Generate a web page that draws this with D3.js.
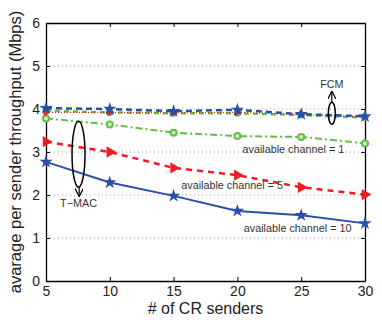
<!DOCTYPE html>
<html>
<head>
<meta charset="utf-8">
<script src="https://cdn.jsdelivr.net/npm/d3@7"></script>
<style>
  body { margin: 0; background: #fff; }
  text { font-family: "Liberation Sans", Arial, sans-serif; }
</style>
</head>
<body>
<div id="chart"></div>
<script>
// x values: number of CR senders
const senders = [5, 10, 15, 20, 25, 30];
const yTicks = [0, 1, 2, 3, 4, 5, 6];

// FCM curves (upper group)
const fcm10 = [4.02, 4.0, 3.95, 3.98, 3.88, 3.83];
const fcm5  = [3.92, 3.92, 3.91, 3.92, 3.87, 3.82];
const fcm1  = [3.96, 3.92, 3.9, 3.9, 3.86, 3.8];
// T-MAC curves
const tmac1  = [3.78, 3.64, 3.45, 3.37, 3.35, 3.2];
const tmac5  = [3.24, 3.0, 2.63, 2.46, 2.18, 2.01];
const tmac10 = [2.77, 2.29, 1.98, 1.63, 1.53, 1.34];

const W = 382, H = 320;
const margin = {top: 23, right: 17, bottom: 39, left: 46};
const w = W - margin.left - margin.right,
      h = H - margin.top - margin.bottom;

const blue = "#2b4ea8", red = "#ee1c24", green = "#62bf43";

const svg = d3.select("#chart").append("svg")
    .attr("width", W).attr("height", H);
const g = svg.append("g")
    .attr("transform", "translate(" + margin.left + "," + margin.top + ")");

const x = d3.scaleLinear().domain([5, 30]).range([0, w]);
const y = d3.scaleLinear().domain([0, 6]).range([h, 0]);

// dotted grid
g.selectAll(".grid").data(yTicks.slice(1, -1)).enter().append("line")
    .attr("x1", 0).attr("x2", w)
    .attr("y1", d => y(d)).attr("y2", d => y(d))
    .style("stroke", "#999").style("stroke-width", 1)
    .style("stroke-dasharray", "1,3");

// axes with inward ticks
g.append("g").attr("transform", "translate(0," + h + ")")
    .call(d3.axisBottom(x).tickValues(senders).tickSizeInner(-4).tickSizeOuter(0).tickPadding(5).tickFormat(d3.format("d")))
    .call(a => a.selectAll("text").style("font-size", "14px").style("fill", "#222"));
g.append("g")
    .call(d3.axisLeft(y).tickValues(yTicks).tickSizeInner(-4).tickSizeOuter(0).tickPadding(6).tickFormat(d3.format("d")))
    .call(a => a.selectAll("text").style("font-size", "14px").style("fill", "#222"));
g.append("g")
    .call(d3.axisTop(x).tickValues(senders).tickSizeInner(-4).tickSizeOuter(0).tickFormat(""));
g.append("g").attr("transform", "translate(" + w + ",0)")
    .call(d3.axisRight(y).tickValues(yTicks).tickSizeInner(-4).tickSizeOuter(0).tickFormat(""));
g.selectAll(".domain").style("stroke", "#000").style("stroke-width", 1.3);

const line = d3.line().x((d, i) => x(senders[i])).y(d => y(d));

const series = [
  {v: tmac10, c: blue,  dash: null,      wd: 2,   m: "star", sz: 55},
  {v: tmac5,  c: red,   dash: "6,5",     wd: 2.5, m: "tri",  sz: 55},
  {v: tmac1,  c: green, dash: "7,3,2,3", wd: 2,   m: "circ", sz: 3},
  {v: fcm1,   c: green, dash: "5,4",     wd: 2.5, m: "circ", sz: 2.5},
  {v: fcm5,   c: red,   dash: "1,2",     wd: 1.2, m: "tri",  sz: 25},
  {v: fcm10,  c: blue,  dash: "6,4",     wd: 2.5, m: "star", sz: 55}
];

series.forEach(s => {
  g.append("path").datum(s.v)
    .attr("d", line)
    .style("fill", "none").style("stroke", s.c)
    .style("stroke-width", s.wd)
    .style("stroke-dasharray", s.dash);
  const pts = g.selectAll(null).data(s.v).enter();
  if (s.m === "star") {
    pts.append("path").attr("d", d3.symbol().type(d3.symbolStar).size(s.sz))
      .attr("transform", (d, i) => "translate(" + x(senders[i]) + "," + y(d) + ")")
      .style("fill", s.c);
  } else if (s.m === "tri") {
    pts.append("path").attr("d", d3.symbol().type(d3.symbolTriangle).size(s.sz))
      .attr("transform", (d, i) => "translate(" + x(senders[i]) + "," + y(d) + ") rotate(90)")
      .style("fill", s.c);
  } else {
    pts.append("circle")
      .attr("cx", (d, i) => x(senders[i])).attr("cy", d => y(d)).attr("r", s.sz)
      .style("fill", "#cfeec4").style("stroke", s.c).style("stroke-width", 2);
  }
});

// annotations
svg.append("defs").append("marker")
    .attr("id", "arr").attr("viewBox", "0 0 10 10")
    .attr("refX", 9).attr("refY", 5)
    .attr("markerWidth", 7).attr("markerHeight", 7).attr("orient", "auto")
  .append("path").attr("d", "M0,0 L10,5 L0,10").style("fill", "none").style("stroke", "#000").style("stroke-width", 1.5);

const ann = g.append("g");
ann.append("ellipse")
    .attr("cx", x(7.55)).attr("cy", y(2.95)).attr("rx", 6.5).attr("ry", 33)
    .style("fill", "none").style("stroke", "#000").style("stroke-width", 1.5);
ann.append("line")
    .attr("x1", x(7.6)).attr("y1", y(2.18)).attr("x2", x(7.6)).attr("y2", y(1.98))
    .style("stroke", "#000").style("stroke-width", 1.2).attr("marker-end", "url(#arr)");
ann.append("text").attr("x", x(7.55)).attr("y", y(1.72))
    .attr("text-anchor", "middle").style("font-size", "10.8px").style("fill", "#333").text("T\u2212MAC");

ann.append("ellipse")
    .attr("cx", x(27.4)).attr("cy", y(3.9)).attr("rx", 3.5).attr("ry", 11)
    .style("fill", "none").style("stroke", "#000").style("stroke-width", 1.5);
ann.append("line")
    .attr("x1", x(27.4)).attr("y1", y(4.15)).attr("x2", x(27.4)).attr("y2", y(4.4))
    .style("stroke", "#000").style("stroke-width", 1.2).attr("marker-end", "url(#arr)");
ann.append("text").attr("x", x(27.4)).attr("y", y(4.5))
    .attr("text-anchor", "middle").style("font-size", "10.8px").style("fill", "#333").text("FCM");

ann.append("text").attr("x", x(20.4)).attr("y", y(2.97))
    .style("font-size", "10.8px").style("fill", "#333").text("available channel = 1");
ann.append("text").attr("x", x(15.6)).attr("y", y(2.13))
    .style("font-size", "10.8px").style("fill", "#333").text("available channel = 5");
ann.append("text").attr("x", x(20.5)).attr("y", y(1.13))
    .style("font-size", "10.8px").style("fill", "#333").text("available channel = 10");

// axis titles
svg.append("text").attr("x", margin.left + w / 2).attr("y", 314)
    .attr("text-anchor", "middle").style("font-size", "16px").style("fill", "#222")
    .text("# of CR senders");
svg.append("text")
    .attr("transform", "translate(21," + 152 + ") rotate(-90)")
    .attr("text-anchor", "middle").style("font-size", "16.5px").style("fill", "#222")
    .text("avarage per sender throughput (Mbps)");
</script>
</body>
</html>
